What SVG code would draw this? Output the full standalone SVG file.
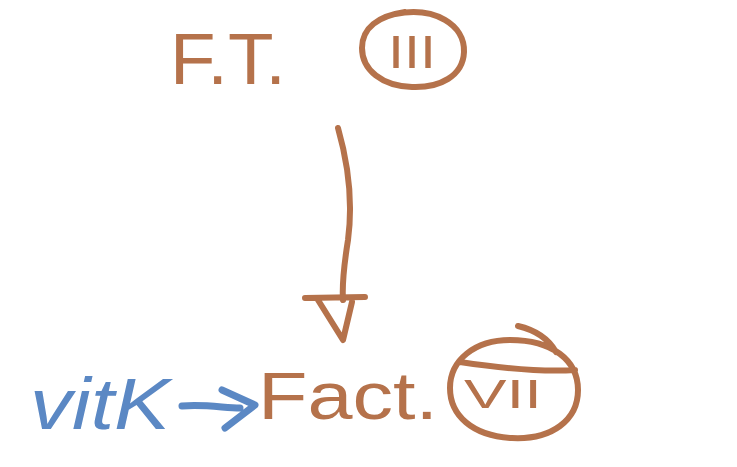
<svg xmlns="http://www.w3.org/2000/svg" width="737" height="467" viewBox="0 0 737 467">
<style>
.br{fill:#b5724b;font-family:"Liberation Sans",Arial,sans-serif}
.bl{fill:#5b88c4;font-family:"Liberation Sans",Arial,sans-serif}
.sb{fill:none;stroke:#b5724b;stroke-width:6;stroke-linecap:round;stroke-linejoin:round}
.sl{fill:none;stroke:#5b88c4;stroke-width:7;stroke-linecap:round;stroke-linejoin:round}
</style>
<rect width="737" height="467" fill="#ffffff"/>
<g id="ft">
<text class="br" x="170" y="84" font-size="72" textLength="116" lengthAdjust="spacingAndGlyphs">F.T.</text>
<path class="sb" d="M395 14 C435 6 465 25 464 52 C463 76 440 88 412 87 C382 86 362 70 362 48 C362 28 378 16 405 12"/>
<text class="br" x="388" y="68" font-size="46" textLength="48" lengthAdjust="spacingAndGlyphs">III</text>
</g>
<g id="fact">
<text class="br" x="258" y="419" font-size="66" textLength="180" lengthAdjust="spacingAndGlyphs">Fact.</text>
<path class="sb" d="M510 340 C552 340 578 360 578 390 C578 420 552 440 512 438 C472 436 450 415 450 388 C450 360 475 340 510 340 M518 326 C535 330 548 338 556 352 M460 362 C500 368 545 372 575 370"/>
<text class="br" x="464" y="408" font-size="40" textLength="78" lengthAdjust="spacingAndGlyphs">VII</text>
</g>
<g id="vitk">
<text class="bl" x="30" y="429" font-size="72" font-style="italic" textLength="140" lengthAdjust="spacingAndGlyphs">vitK</text>
</g>
<g id="connectors">
<path class="sb" d="M338 128 C350 170 352 210 348 240 C344 265 342 285 343 300"/>
<path class="sb" d="M305 298 L365 297 M318 300 L343 340 L352 302"/>
<path class="sl" d="M182 406 C205 404 225 408 240 408 M222 390 L255 405 L225 428"/>
</g>
</svg>
